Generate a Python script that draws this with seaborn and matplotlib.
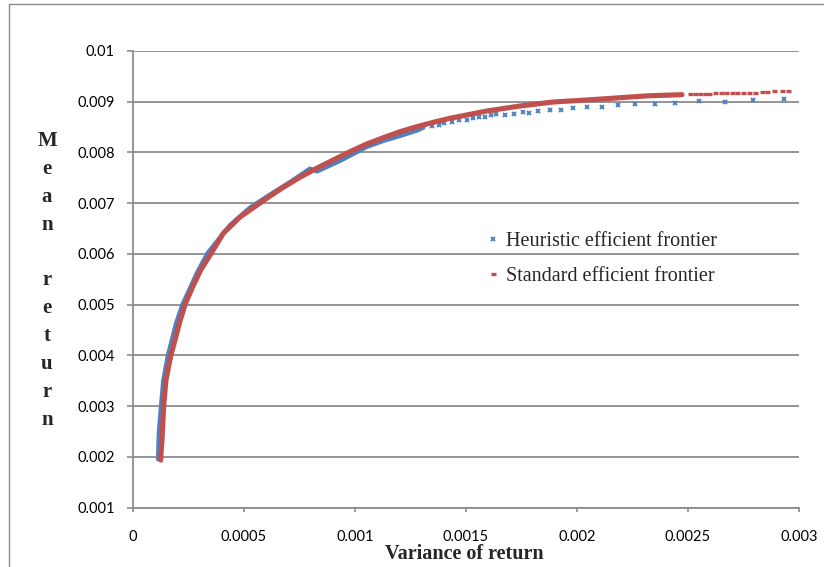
import numpy as np
import pandas as pd
import matplotlib
matplotlib.use("Agg")
import matplotlib.pyplot as plt
import seaborn as sns
from matplotlib.lines import Line2D
from matplotlib.patches import Rectangle

# Standard efficient frontier (dense part)
std_var = [0.0001248, 0.0001270, 0.0001306, 0.0001383, 0.0001486, 0.0001698,
           0.0001892, 0.0002086, 0.0002342, 0.0002689, 0.0003050, 0.0003514,
           0.0004068, 0.0004820, 0.0005270, 0.0006020, 0.0006770, 0.0007520,
           0.0008270, 0.0009020, 0.0009770, 0.0010530, 0.0011270, 0.0012030,
           0.0012780, 0.0013530, 0.0014280, 0.0015930, 0.0017430, 0.0018930,
           0.0020440, 0.0021940, 0.0023290, 0.0024730]
std_mean = [0.001939, 0.002137, 0.002333, 0.003017, 0.003516, 0.003989,
            0.004304, 0.004634, 0.005000, 0.005355, 0.005684, 0.006009,
            0.006407, 0.006728, 0.006866, 0.007097, 0.007314, 0.007511,
            0.007688, 0.007852, 0.008015, 0.008167, 0.008291, 0.008410,
            0.008508, 0.008595, 0.008674, 0.008817, 0.008916, 0.008995,
            0.009034, 0.009080, 0.009119, 0.009139]
# Standard frontier, sparse points at the end
std_tail_var = [0.002509, 0.002532, 0.002554, 0.002577, 0.002596, 0.002622,
                0.002649, 0.002671, 0.002697, 0.002722, 0.002749, 0.002775,
                0.002802, 0.002832, 0.002855, 0.002887, 0.002922, 0.002949]
std_tail_mean = [0.009147, 0.009147, 0.009147, 0.009150, 0.009155, 0.009166,
                 0.009166, 0.009166, 0.009172, 0.009172, 0.009172, 0.009172,
                 0.009175, 0.009192, 0.009192, 0.009206, 0.009206, 0.009206]

# Heuristic efficient frontier (dense part)
heur_var = [0.0001126, 0.0001149, 0.0001171, 0.0001261, 0.0001365, 0.0001563,
            0.0001937, 0.0002221, 0.0002869, 0.0003347, 0.000437, 0.000527,
            0.000617, 0.000707, 0.000797, 0.000829, 0.000932, 0.001053,
            0.001127, 0.001203, 0.001278, 0.001308]
heur_mean = [0.001953, 0.002333, 0.002531, 0.003017, 0.003516, 0.003989,
             0.004633, 0.005000, 0.005619, 0.006013, 0.006571, 0.006916,
             0.007172, 0.007418, 0.007684, 0.007625, 0.007832, 0.008108,
             0.008226, 0.008325, 0.008429, 0.008488]
# Heuristic frontier, separate points
heur_pts_var = [0.001348, 0.001380, 0.001401, 0.001438, 0.001468, 0.001503,
                0.001533, 0.001559, 0.001586, 0.001611, 0.001635, 0.001676,
                0.001716, 0.001758, 0.001782, 0.001826, 0.001878, 0.001927,
                0.001983, 0.002044, 0.002111, 0.002186, 0.002261, 0.002351,
                0.002443, 0.002548, 0.002665, 0.002794, 0.002934]
heur_pts_mean = [0.008528, 0.008542, 0.008575, 0.008601, 0.008634, 0.008640,
                 0.008674, 0.008705, 0.008705, 0.008733, 0.008764, 0.008739,
                 0.008764, 0.008792, 0.008772, 0.008817, 0.008843, 0.008831,
                 0.008871, 0.008902, 0.008890, 0.008936, 0.008961, 0.008950,
                 0.008981, 0.009009, 0.008995, 0.009040, 0.009060]

y_ticks = [0.001, 0.002, 0.003, 0.004, 0.005, 0.006, 0.007, 0.008, 0.009, 0.01]
y_labels = ["0.001", "0.002", "0.003", "0.004", "0.005", "0.006", "0.007",
            "0.008", "0.009", "0.01"]
x_ticks = [0, 0.0005, 0.001, 0.0015, 0.002, 0.0025, 0.003]
x_labels = ["0", "0.0005", "0.001", "0.0015", "0.002", "0.0025", "0.003"]

BLUE = "#4F81BD"
RED = "#C0504D"
GRID = "#8c8c8c"

sns.set_style("white")
plt.rcParams["font.family"] = ["Lato", "DejaVu Sans"]

W, H = 824, 567
fig = plt.figure(figsize=(W / 100, H / 100), dpi=100)
ax = fig.add_axes([133 / W, 1 - 507.7 / H, (799 - 133) / W, (507.7 - 51) / H])

std = pd.DataFrame({"var": std_var, "mean": std_mean})
std_tail = pd.DataFrame({"var": std_tail_var, "mean": std_tail_mean})
heur = pd.DataFrame({"var": heur_var, "mean": heur_mean})
heur_pts = pd.DataFrame({"var": heur_pts_var, "mean": heur_pts_mean})

# heuristic series underneath
sns.lineplot(data=heur, x="var", y="mean", sort=False, estimator=None,
             color=BLUE, linewidth=3.0, ax=ax, zorder=3)
ax.plot(heur_pts["var"], heur_pts["mean"], linestyle="none", marker="x",
        markersize=3.2, markeredgewidth=1.4, color=BLUE, zorder=3)

# standard series on top
sns.lineplot(data=std, x="var", y="mean", sort=False, estimator=None,
             color=RED, linewidth=3.7, ax=ax, zorder=4)
ax.plot(std_tail["var"], std_tail["mean"], linestyle="none", marker="_",
        markersize=3.6, markeredgewidth=2.4, color=RED, zorder=4)

ax.set_xlim(0, 0.003)
ax.set_ylim(0.001, 0.01)
ax.set_yticks(y_ticks)
ax.set_yticklabels(y_labels)
ax.set_xticks(x_ticks)
ax.set_xticklabels(x_labels)
ax.set_xlabel("")
ax.set_ylabel("")

ax.yaxis.grid(True, color=GRID, linewidth=1.3)
ax.xaxis.grid(False)
ax.set_axisbelow(True)
for s in ["top", "right"]:
    ax.spines[s].set_visible(False)
for s in ["left", "bottom"]:
    ax.spines[s].set_color(GRID)
    ax.spines[s].set_linewidth(1.3)
ax.tick_params(axis="y", direction="out", length=4, width=1.2, color=GRID,
               pad=9, labelsize=10.5, labelcolor="black", left=True)
ax.tick_params(axis="x", direction="out", length=3, width=1.2, color=GRID,
               pad=13, labelsize=10.5, labelcolor="black", bottom=True)

serif = ["Liberation Serif", "DejaVu Serif"]

# stacked y-axis title
for i, ch in enumerate("Mean return"):
    fig.text(47 / W, 1 - (141 + i * 27.9) / H, ch, ha="center", va="center",
             fontsize=15, fontweight="bold", family=serif)

fig.text(464 / W, 1 - 554 / H, "Variance of return", ha="center", va="center",
         fontsize=14.5, fontweight="bold", family=serif)

handles = [
    Line2D([], [], linestyle="none", marker="x", markersize=3.2,
           markeredgewidth=1.4, color=BLUE),
    Line2D([], [], linestyle="none", marker="_", markersize=3.6,
           markeredgewidth=2.4, color=RED),
]
fig.legend(handles, ["Heuristic efficient frontier", "Standard efficient frontier"],
           loc="center left", bbox_to_anchor=(484 / W, 1 - 259 / H),
           frameon=False, borderpad=0, borderaxespad=0, handlelength=0.9,
           handletextpad=0.2, labelspacing=0.75,
           prop={"family": serif, "size": 14.5})

# outer chart border (left and top edges visible)
fig.patches.append(Rectangle((9 / W, -0.5), 1.5, 1.5 - 4 / H,
                             transform=fig.transFigure, fill=False,
                             edgecolor=GRID, linewidth=1.0))

fig.savefig("out.png", dpi=100)
